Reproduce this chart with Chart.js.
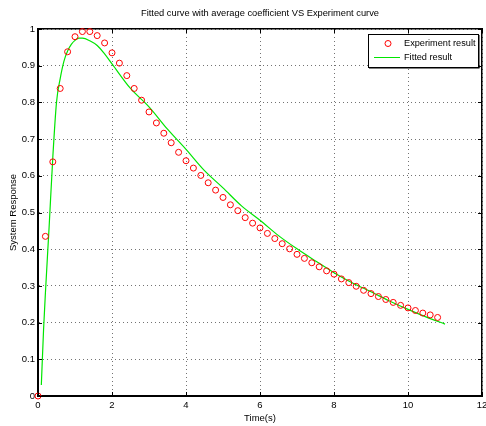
<!DOCTYPE html>
<html lang="en">
<head>
<meta charset="UTF-8">
<title>Fitted curve with average coefficient VS Experiment curve</title>
<script src="https://cdn.jsdelivr.net/npm/chart.js@4"></script>
<style>
  html, body { margin: 0; padding: 0; background: #fff; }
  #wrap { width: 486px; height: 426px; }
</style>
</head>
<body>
<div id="wrap"><canvas id="fitChart"></canvas></div>
<script>
// measured response, one sample every 0.2 s
const expTime = [0, 0.2, 0.4, 0.6, 0.8, 1.0, 1.2, 1.4, 1.6, 1.8,
  2.0, 2.2, 2.4, 2.6, 2.8, 3.0, 3.2, 3.4, 3.6, 3.8,
  4.0, 4.2, 4.4, 4.6, 4.8, 5.0, 5.2, 5.4, 5.6, 5.8,
  6.0, 6.2, 6.4, 6.6, 6.8, 7.0, 7.2, 7.4, 7.6, 7.8,
  8.0, 8.2, 8.4, 8.6, 8.8, 9.0, 9.2, 9.4, 9.6, 9.8,
  10.0, 10.2, 10.4, 10.6, 10.8]
const expResponse = [0, 0.435, 0.638, 0.838, 0.938, 0.979, 0.993, 0.993, 0.982, 0.962,
  0.935, 0.907, 0.873, 0.838, 0.806, 0.774, 0.744, 0.716, 0.690, 0.664,
  0.641, 0.621, 0.601, 0.581, 0.561, 0.541, 0.521, 0.505, 0.486, 0.471,
  0.458, 0.443, 0.429, 0.415, 0.401, 0.386, 0.375, 0.363, 0.352, 0.341,
  0.332, 0.319, 0.309, 0.299, 0.288, 0.279, 0.271, 0.263, 0.255, 0.247,
  0.240, 0.233, 0.226, 0.221, 0.214]

// fitted curve
const fitTime = [0.09, 0.15, 0.2, 0.3, 0.4, 0.5, 0.6, 0.7, 0.8, 0.9, 1.0, 1.1, 1.2,
  1.4, 1.6, 1.8, 2.0, 2.5, 3.0, 3.5, 4.0, 4.5, 5.0, 5.5, 6.0, 6.5, 7.0,
  7.5, 8.0, 8.5, 9.0, 9.5, 10.0, 10.5, 11.0]
const fitResponse = [0.03, 0.18, 0.28, 0.46, 0.65, 0.80, 0.865, 0.912, 0.94, 0.958, 0.969, 0.975, 0.975,
  0.968, 0.955, 0.932, 0.905, 0.838, 0.788, 0.727, 0.672, 0.614, 0.567, 0.518, 0.479, 0.437, 0.401,
  0.368, 0.336, 0.308, 0.284, 0.259, 0.236, 0.215, 0.196]

const xTicks = [0, 2, 4, 6, 8, 10, 12]
const xTickLabels = ["0", "2", "4", "6", "8", "10", "12"]
const yTicks = [0, 0.1, 0.2, 0.3, 0.4, 0.5, 0.6, 0.7, 0.8, 0.9, 1]
const yTickLabels = ["0", "0.1", "0.2", "0.3", "0.4", "0.5", "0.6", "0.7", "0.8", "0.9", "1"]

const FONT = "'Liberation Sans', Arial, Helvetica, sans-serif"

const expPoints = expTime.map((t, i) => ({ x: t, y: expResponse[i] }))
const fitPoints = fitTime.map((t, i) => ({ x: t, y: fitResponse[i] }))

// fixed box sizes so the plot area sits where the reference has it
const fixSize = (size) => (scale) => {
  if (scale.isHorizontal()) scale.height = size
  else scale.width = size
  scale.paddingLeft = scale.paddingRight = scale.paddingTop = scale.paddingBottom = 0
}

const gridStyle = { color: "rgba(0,0,0,0.55)", lineWidth: 1, drawTicks: false, borderDash: [1, 3] }

// inward tick marks on all four sides + the boxed legend
const matlabFrame = {
  id: "matlabFrame",
  afterDraw(chart) {
    const { ctx, chartArea: a, scales } = chart
    ctx.save()
    ctx.strokeStyle = "#000"
    ctx.lineWidth = 1
    ctx.beginPath()
    for (const v of xTicks) {
      const px = Math.round(scales.x.getPixelForValue(v)) + 0.5
      ctx.moveTo(px, a.bottom); ctx.lineTo(px, a.bottom - 4)
      ctx.moveTo(px, a.top); ctx.lineTo(px, a.top + 4)
    }
    for (const v of yTicks) {
      const py = Math.round(scales.y.getPixelForValue(v)) + 0.5
      ctx.moveTo(a.left, py); ctx.lineTo(a.left + 4, py)
      ctx.moveTo(a.right, py); ctx.lineTo(a.right - 4, py)
    }
    ctx.stroke()

    // legend
    const w = 110, h = 33
    const lx = a.right - 4 - w, ly = a.top + 5
    ctx.fillStyle = "#fff"
    ctx.fillRect(lx, ly, w, h)
    ctx.fillStyle = "#000"
    ctx.fillRect(lx + w, ly + 1, 1.5, h)
    ctx.fillRect(lx + 1, ly + h, w + 0.5, 1.5)
    ctx.strokeRect(lx + 0.5, ly + 0.5, w, h)

    const ds = chart.data.datasets
    ctx.font = "9.2px " + FONT
    ctx.textBaseline = "middle"
    ctx.textAlign = "left"
    // marker entry
    ctx.strokeStyle = ds[0].borderColor
    ctx.beginPath()
    ctx.arc(lx + 20, ly + 9.5, 3, 0, Math.PI * 2)
    ctx.stroke()
    ctx.fillStyle = "#000"
    ctx.fillText(ds[0].label, lx + 36, ly + 9.5)
    // line entry
    ctx.strokeStyle = ds[1].borderColor
    ctx.beginPath()
    ctx.moveTo(lx + 6, ly + 23.5); ctx.lineTo(lx + 32, ly + 23.5)
    ctx.stroke()
    ctx.fillText(ds[1].label, lx + 36, ly + 23.5)
    ctx.restore()
  },
}

new Chart(document.getElementById("fitChart"), {
  type: "scatter",
  data: {
    datasets: [
      {
        label: "Experiment result",
        data: expPoints,
        showLine: false,
        pointStyle: "circle",
        pointRadius: 3,
        pointHoverRadius: 3,
        borderWidth: 1,
        borderColor: "#ff0000",
        backgroundColor: "rgba(0,0,0,0)",
        clip: false,
        order: 0,
      },
      {
        label: "Fitted result",
        data: fitPoints,
        showLine: true,
        pointRadius: 0,
        borderWidth: 1.2,
        borderColor: "#00e600",
        backgroundColor: "#00e600",
        cubicInterpolationMode: "monotone",
        order: 1,
      },
    ],
  },
  options: {
    responsive: true,
    maintainAspectRatio: false,
    animation: false,
    layout: { padding: 0 },
    plugins: {
      legend: { display: false },
      title: { display: false },
      tooltip: { enabled: false },
    },
    scales: {
      x: {
        type: "linear",
        position: "bottom",
        min: 0,
        max: 12,
        afterBuildTicks: (s) => { s.ticks = xTicks.map((v) => ({ value: v })) },
        afterFit: fixSize(30),
        ticks: {
          color: "#000",
          padding: 4,
          maxRotation: 0,
          font: { family: FONT, size: 9.5 },
          callback: (v, i) => xTickLabels[i],
        },
        grid: gridStyle,
        border: { display: true, color: "#000", width: 2, dash: [1, 3] },
        title: {
          display: true,
          text: "Time(s)",
          color: "#000",
          font: { family: FONT, size: 9.5 },
          padding: { top: 0, bottom: 2 },
        },
      },
      y: {
        type: "linear",
        position: "left",
        min: 0,
        max: 1,
        afterBuildTicks: (s) => { s.ticks = yTicks.map((v) => ({ value: v })) },
        afterFit: fixSize(38),
        ticks: {
          color: "#000",
          padding: 3,
          font: { family: FONT, size: 9.5 },
          callback: (v, i) => yTickLabels[i],
        },
        grid: gridStyle,
        border: { display: true, color: "#000", width: 2, dash: [1, 3] },
        title: {
          display: true,
          text: "System Response",
          color: "#000",
          font: { family: FONT, size: 9.5 },
          padding: { top: 8, bottom: 0 },
        },
      },
      top: {
        type: "linear",
        position: "top",
        min: 0,
        max: 12,
        afterFit: fixSize(29),
        ticks: { display: false },
        grid: { drawOnChartArea: false, drawTicks: false },
        border: { display: true, color: "#000", width: 1.5 },
        title: {
          display: true,
          text: "Fitted curve with average coefficient VS Experiment curve",
          color: "#000",
          font: { family: FONT, size: 9.3 },
          padding: { top: 8, bottom: 0 },
        },
      },
      right: {
        type: "linear",
        position: "right",
        min: 0,
        max: 1,
        afterFit: fixSize(2),
        ticks: { display: false },
        grid: { drawOnChartArea: false, drawTicks: false },
        border: { display: true, color: "#000", width: 1.5 },
      },
    },
  },
  plugins: [matlabFrame],
})
</script>
</body>
</html>
